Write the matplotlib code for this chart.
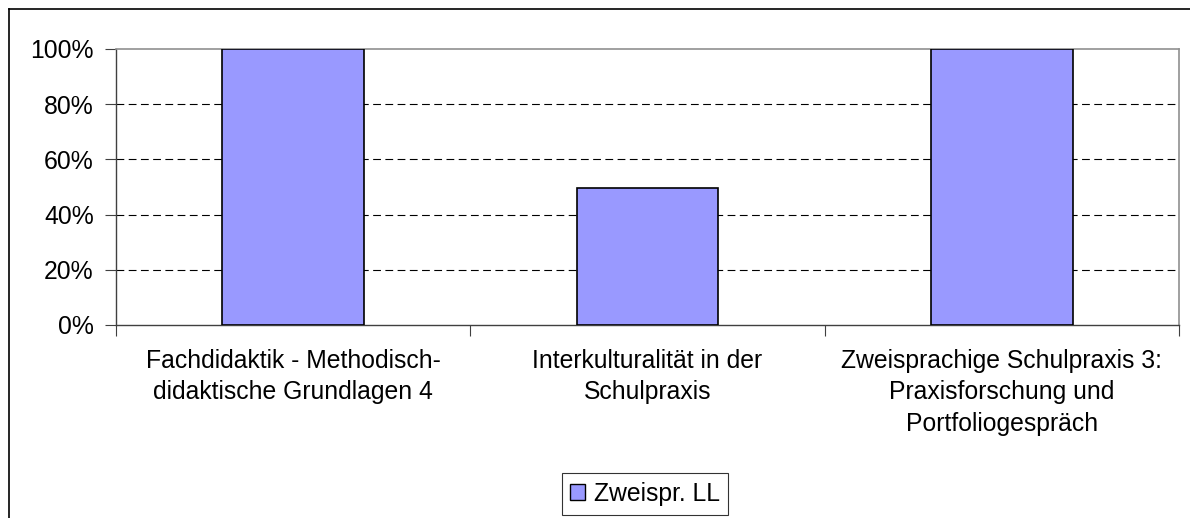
import matplotlib.pyplot as plt
from matplotlib.lines import Line2D
from matplotlib.patches import Patch
from matplotlib.ticker import PercentFormatter

plt.rcParams['font.family'] = ['Liberation Sans', 'DejaVu Sans']

categories = ['Fachdidaktik - Methodisch-\ndidaktische Grundlagen 4',
              'Interkulturalität in der\nSchulpraxis',
              'Zweisprachige Schulpraxis 3:\nPraxisforschung und\nPortfoliogespräch']
values = [1.0, 0.495, 1.0]
series_name = 'Zweispr. LL'
bar_color = '#9999ff'

W, H = 1190, 518
fig = plt.figure(figsize=(W / 100, H / 100), dpi=100)
ax = fig.add_axes([116 / W, 1 - 325 / H, (1179 - 116) / W, (325 - 49) / H])

x = list(range(len(categories)))
ax.bar(x, values, width=0.4, color=bar_color, edgecolor='black', linewidth=1.2, zorder=3)

ax.set_xlim(-0.5, len(categories) - 0.5)
ax.set_ylim(0, 1)
ax.set_yticks([0, 0.2, 0.4, 0.6, 0.8, 1.0])
ax.yaxis.set_major_formatter(PercentFormatter(1.0, decimals=0))
ax.tick_params(axis='y', labelsize=17.8, length=8, width=0.8, color='#404040', pad=8)

ax.set_xticks(x)
ax.set_xticklabels(categories, fontsize=17.8, linespacing=1.4)
ax.tick_params(axis='x', length=0, pad=17)
ax.set_xticks([i - 0.5 for i in range(len(categories) + 1)], minor=True)
ax.tick_params(axis='x', which='minor', length=8, width=0.8, color='#404040')

for v in [0.2, 0.4, 0.6, 0.8]:
    ax.axhline(v, color='black', linewidth=0.8, linestyle=(0, (7, 4)), zorder=1)

for side in ['top', 'right']:
    ax.spines[side].set_color('#909090')
    ax.spines[side].set_linewidth(1.2)
for side in ['left', 'bottom']:
    ax.spines[side].set_color('#404040')
    ax.spines[side].set_linewidth(1.0)

# outer chart frame (cut off at right and bottom)
fig.add_artist(Line2D([9 / W, 9 / W], [1 - 9 / H, 0], color='black', linewidth=1.2))
fig.add_artist(Line2D([9 / W, 1], [1 - 9 / H, 1 - 9 / H], color='black', linewidth=1.2))

handle = Patch(facecolor=bar_color, edgecolor='black', linewidth=1.0)
leg = fig.legend([handle], [series_name], loc='center', bbox_to_anchor=(645 / W, 1 - 494 / H),
                 fontsize=17.8, frameon=True, fancybox=False, edgecolor='black',
                 handlelength=0.6, handleheight=0.6, handletextpad=0.35, borderpad=0.35,
                 borderaxespad=0)
leg.get_frame().set_linewidth(0.8)

fig.savefig('out.png', dpi=100)
